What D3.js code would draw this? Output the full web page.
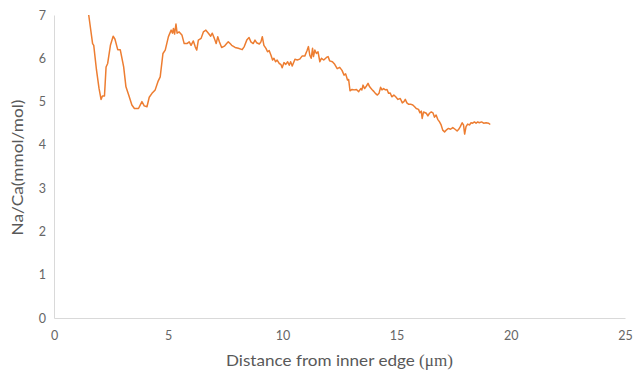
<!DOCTYPE html>
<html>
<head>
<meta charset="utf-8">
<script src="https://cdn.jsdelivr.net/npm/d3@7"></script>
<style>
  html, body { margin: 0; padding: 0; background: #fff; }
  svg { display: block; }
  .tick text { fill: #666666; font-family: Lato, "Open Sans", sans-serif; font-size: 12.5px; }
  .axis-title { fill: #595959; font-family: Lato, "Open Sans", sans-serif; }
</style>
</head>
<body>
<svg id="chart" width="635" height="377"></svg>
<script>
// Distance from the inner edge (µm)
const distance = [
  1.52, 1.69, 1.74, 1.86, 1.97, 2.06, 2.12, 2.21, 2.28, 2.35, 2.47, 2.59, 2.67, 2.79, 2.90,
  3.05, 3.15, 3.27, 3.41, 3.52, 3.70, 3.85, 3.95, 4.07, 4.17, 4.29, 4.43, 4.55, 4.65, 4.77,
  4.87, 5.01, 5.13, 5.19, 5.23, 5.28, 5.34, 5.39, 5.48, 5.60, 5.70, 5.82, 5.92, 6.00, 6.10,
  6.18, 6.25, 6.32, 6.44, 6.54, 6.65, 6.76, 6.86, 6.93, 7.02, 7.10, 7.17, 7.24, 7.34, 7.46,
  7.56, 7.63, 7.71, 7.78, 7.93, 8.07, 8.24, 8.33, 8.44, 8.54, 8.62, 8.72, 8.80, 8.87, 8.99,
  9.06, 9.12, 9.19, 9.28, 9.35, 9.42, 9.50, 9.57, 9.63, 9.70, 9.77, 9.86, 9.93, 9.99, 10.07,
  10.15, 10.23, 10.30, 10.36, 10.43, 10.55, 10.65, 10.76, 10.86, 10.98, 11.08, 11.14, 11.20, 11.26, 11.32,
  11.36, 11.42, 11.49, 11.56, 11.64, 11.71, 11.81, 11.93, 12.00, 12.07, 12.19, 12.29, 12.40, 12.51, 12.61,
  12.70, 12.77, 12.85, 12.90, 12.96, 13.05, 13.14, 13.24, 13.34, 13.43, 13.48, 13.53, 13.60, 13.68, 13.75,
  13.82, 13.92, 14.01, 14.07, 14.16, 14.23, 14.30, 14.36, 14.43, 14.51, 14.58, 14.65, 14.72, 14.79, 14.88,
  14.96, 15.06, 15.16, 15.25, 15.32, 15.38, 15.45, 15.52, 15.61, 15.71, 15.79, 15.86, 15.96, 16.02, 16.08,
  16.12, 16.18, 16.30, 16.37, 16.44, 16.52, 16.59, 16.66, 16.73, 16.80, 16.88, 16.95, 17.02, 17.10, 17.17,
  17.27, 17.36, 17.46, 17.56, 17.65, 17.72, 17.79, 17.87, 17.93, 17.98, 18.04, 18.11, 18.19, 18.26, 18.33,
  18.41, 18.48, 18.55, 18.62, 18.72, 18.81, 18.92, 19.02, 19.10
];

// Na/Ca ratio (mmol/mol)
const naCa = [
  7.00, 6.34, 6.30, 5.73, 5.31, 5.05, 5.13, 5.13, 5.80, 5.88, 6.30, 6.51, 6.44, 6.20, 6.20,
  5.80, 5.34, 5.15, 4.92, 4.84, 4.84, 5.00, 4.90, 4.88, 5.10, 5.19, 5.27, 5.46, 5.57, 6.11,
  6.19, 6.50, 6.65, 6.58, 6.69, 6.56, 6.79, 6.58, 6.61, 6.54, 6.34, 6.34, 6.38, 6.30, 6.40,
  6.27, 6.19, 6.42, 6.46, 6.61, 6.65, 6.58, 6.51, 6.58, 6.46, 6.34, 6.50, 6.38, 6.25, 6.28,
  6.34, 6.38, 6.34, 6.30, 6.25, 6.23, 6.20, 6.27, 6.42, 6.48, 6.38, 6.34, 6.42, 6.36, 6.33,
  6.38, 6.50, 6.30, 6.23, 6.15, 6.18, 6.07, 5.96, 6.00, 5.92, 5.96, 5.88, 5.86, 5.78, 5.90,
  5.86, 5.92, 5.84, 5.92, 5.82, 5.98, 5.96, 5.98, 6.05, 6.05, 6.18, 6.27, 6.07, 6.00, 6.23,
  6.04, 6.19, 6.11, 6.15, 5.92, 6.00, 5.96, 6.02, 6.04, 5.94, 5.92, 5.86, 5.76, 5.79, 5.72,
  5.61, 5.64, 5.50, 5.51, 5.25, 5.28, 5.27, 5.28, 5.23, 5.30, 5.27, 5.38, 5.30, 5.36, 5.42,
  5.34, 5.28, 5.23, 5.19, 5.15, 5.19, 5.33, 5.27, 5.30, 5.27, 5.28, 5.19, 5.20, 5.11, 5.15,
  5.11, 5.05, 5.07, 4.97, 5.00, 5.05, 4.97, 4.94, 4.94, 4.92, 4.88, 4.84, 4.82, 4.74, 4.78,
  4.61, 4.76, 4.73, 4.67, 4.73, 4.76, 4.74, 4.64, 4.69, 4.59, 4.53, 4.46, 4.34, 4.30, 4.34,
  4.38, 4.36, 4.40, 4.36, 4.32, 4.36, 4.42, 4.51, 4.46, 4.25, 4.42, 4.48, 4.46, 4.51, 4.50,
  4.53, 4.50, 4.53, 4.51, 4.53, 4.50, 4.51, 4.50, 4.47
];

const xTicks = [0, 5, 10, 15, 20, 25];
const yTicks = [0, 1, 2, 3, 4, 5, 6, 7];

const svg = d3.select("#chart");
const margin = { left: 54, right: 10, top: 15, bottom: 59 };
const width = 635 - margin.left - margin.right;
const height = 377 - margin.top - margin.bottom;

const x = d3.scaleLinear().domain([0, 25]).range([0, width]);
const y = d3.scaleLinear().domain([0, 7]).range([height, 0]);

const g = svg.append("g").attr("transform", `translate(${margin.left},${margin.top})`);

// Axes: light grey spines, no tick marks, integer labels
const xAxis = g.append("g")
  .attr("transform", `translate(0,${height})`)
  .call(d3.axisBottom(x).tickValues(xTicks).tickFormat(d3.format("d")).tickSize(0).tickPadding(13));
const yAxis = g.append("g")
  .call(d3.axisLeft(y).tickValues(yTicks).tickFormat(d3.format("d")).tickSize(0).tickPadding(8));

[xAxis, yAxis].forEach(a => {
  a.select(".domain").attr("stroke", "#d9d9d9").attr("stroke-width", 1);
});

// Profile line
const points = distance.map((d, i) => [d, naCa[i]]);
g.append("path")
  .datum(points)
  .attr("fill", "none")
  .attr("stroke", "#ED7D31")
  .attr("stroke-width", 1.5)
  .attr("stroke-linejoin", "round")
  .attr("d", d3.line().x(d => x(d[0])).y(d => y(d[1])));

// Axis titles
const xt = svg.append("text")
  .attr("class", "axis-title")
  .attr("font-size", 16)
  .attr("x", 226)
  .attr("y", 366)
  .attr("textLength", 227)
  .attr("lengthAdjust", "spacingAndGlyphs");
xt.append("tspan").text("Distance from inner edge ");
xt.append("tspan").attr("font-family", "'Liberation Serif', serif").text("(μm)");

svg.append("text")
  .attr("class", "axis-title")
  .attr("font-size", 15.5)
  .attr("transform", `translate(23,${margin.top + height / 2 + 1}) rotate(-90)`)
  .attr("text-anchor", "middle")
  .attr("textLength", 136)
  .attr("lengthAdjust", "spacingAndGlyphs")
  .text("Na/Ca(mmol/mol)");
</script>
</body>
</html>
